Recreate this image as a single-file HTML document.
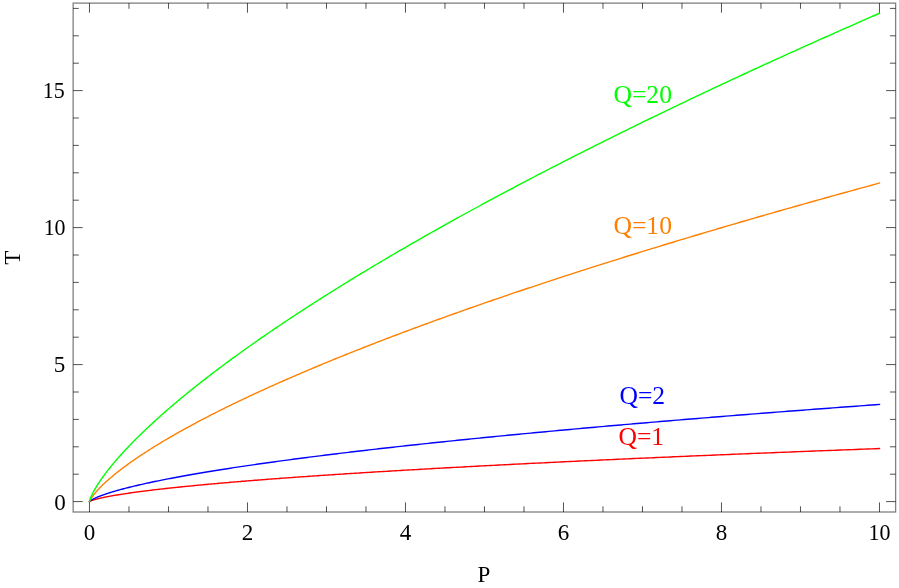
<!DOCTYPE html>
<html><head><meta charset="utf-8"><title>T-P plot</title>
<style>
html,body{margin:0;padding:0;background:#fff;}
body{width:899px;height:588px;overflow:hidden;font-family:"Liberation Serif",serif;}
svg{display:block;position:absolute;left:0;top:0;will-change:transform;}
text{font-family:"Liberation Serif",serif;}
.tk{font-size:24px;fill:#000;}
.lb{font-size:25.6px;}
.ax{font-size:23px;fill:#000;}
</style></head><body>
<svg width="899" height="588" viewBox="0 0 899 588">

<g fill="none" stroke-width="1.4" stroke-linejoin="round" stroke-linecap="square">
<path d="M89.47 501.60L89.47 501.60L89.49 501.58L89.51 501.57L89.55 501.54L89.59 501.51L89.65 501.48L89.71 501.44L89.79 501.39L89.87 501.35L89.96 501.30L90.07 501.24L90.18 501.19L90.30 501.13L90.44 501.07L90.58 501.01L90.73 500.94L90.90 500.87L91.07 500.80L91.25 500.73L91.44 500.66L91.65 500.58L91.86 500.50L92.08 500.42L92.31 500.34L92.56 500.26L92.81 500.18L93.07 500.09L93.34 500.01L93.62 499.92L93.91 499.83L94.21 499.74L94.53 499.65L94.85 499.56L95.18 499.46L95.52 499.37L95.87 499.27L96.23 499.17L96.60 499.08L96.98 498.98L97.37 498.88L97.77 498.78L98.18 498.67L98.60 498.57L99.03 498.47L99.47 498.36L99.92 498.26L100.38 498.15L100.85 498.05L101.32 497.94L101.81 497.83L102.31 497.72L102.82 497.61L103.34 497.50L103.87 497.39L104.41 497.28L104.95 497.17L105.51 497.06L106.08 496.94L106.66 496.83L107.25 496.71L107.84 496.60L108.45 496.48L109.07 496.37L109.69 496.25L110.33 496.13L110.98 496.02L111.63 495.90L112.30 495.78L112.98 495.66L113.66 495.54L114.36 495.42L115.07 495.30L115.78 495.18L116.51 495.06L117.24 494.94L117.99 494.81L118.74 494.69L119.51 494.57L120.28 494.44L121.07 494.32L121.86 494.20L122.67 494.07L123.48 493.95L124.31 493.82L125.14 493.70L125.99 493.57L126.84 493.44L127.71 493.32L128.58 493.19L129.46 493.06L130.36 492.94L131.26 492.81L132.17 492.68L133.10 492.55L134.03 492.42L134.97 492.29L135.93 492.16L136.89 492.03L137.86 491.90L138.84 491.77L139.84 491.64L140.84 491.51L141.85 491.38L142.87 491.25L143.91 491.12L144.95 490.99L146.00 490.85L147.06 490.72L148.13 490.59L149.21 490.46L150.30 490.32L151.41 490.19L152.52 490.06L153.64 489.92L154.77 489.79L155.91 489.65L157.06 489.52L158.22 489.39L159.39 489.25L160.57 489.12L161.76 488.98L162.96 488.85L164.17 488.71L165.39 488.57L166.62 488.44L167.86 488.30L169.11 488.17L170.37 488.03L171.63 487.89L172.91 487.76L174.20 487.62L175.50 487.48L176.81 487.35L178.13 487.21L179.46 487.07L180.79 486.93L182.14 486.79L183.50 486.66L184.87 486.52L186.25 486.38L187.63 486.24L189.03 486.10L190.44 485.96L191.85 485.83L193.28 485.69L194.72 485.55L196.16 485.41L197.62 485.27L199.09 485.13L200.56 484.99L202.05 484.85L203.55 484.71L205.05 484.57L206.57 484.43L208.09 484.29L209.63 484.15L211.17 484.01L212.73 483.87L214.29 483.73L215.87 483.59L217.45 483.44L219.05 483.30L220.65 483.16L222.27 483.02L223.89 482.88L225.53 482.74L227.17 482.60L228.83 482.45L230.49 482.31L232.16 482.17L233.85 482.03L235.54 481.89L237.24 481.74L238.96 481.60L240.68 481.46L242.41 481.32L244.16 481.18L245.91 481.03L247.67 480.89L249.44 480.75L251.23 480.60L253.02 480.46L254.82 480.32L256.63 480.18L258.46 480.03L260.29 479.89L262.13 479.75L263.98 479.60L265.84 479.46L267.71 479.32L269.59 479.17L271.49 479.03L273.39 478.88L275.30 478.74L277.22 478.60L279.15 478.45L281.09 478.31L283.04 478.16L285.00 478.02L286.97 477.88L288.95 477.73L290.94 477.59L292.94 477.44L294.95 477.30L296.97 477.15L299.00 477.01L301.04 476.87L303.09 476.72L305.14 476.58L307.21 476.43L309.29 476.29L311.38 476.14L313.48 476.00L315.59 475.85L317.71 475.71L319.83 475.56L321.97 475.42L324.12 475.27L326.28 475.13L328.45 474.98L330.62 474.84L332.81 474.69L335.01 474.54L337.21 474.40L339.43 474.25L341.66 474.11L343.89 473.96L346.14 473.82L348.40 473.67L350.66 473.53L352.94 473.38L355.23 473.23L357.52 473.09L359.83 472.94L362.14 472.80L364.47 472.65L366.80 472.51L369.15 472.36L371.50 472.21L373.87 472.07L376.24 471.92L378.63 471.78L381.02 471.63L383.43 471.48L385.84 471.34L388.27 471.19L390.70 471.04L393.15 470.90L395.60 470.75L398.06 470.61L400.54 470.46L403.02 470.31L405.51 470.17L408.02 470.02L410.53 469.87L413.05 469.73L415.59 469.58L418.13 469.43L420.68 469.29L423.25 469.14L425.82 469.00L428.40 468.85L430.99 468.70L433.59 468.56L436.21 468.41L438.83 468.26L441.46 468.12L444.10 467.97L446.75 467.82L449.41 467.68L452.08 467.53L454.77 467.38L457.46 467.24L460.16 467.09L462.87 466.94L465.59 466.79L468.32 466.65L471.06 466.50L473.81 466.35L476.57 466.21L479.34 466.06L482.12 465.91L484.91 465.77L487.71 465.62L490.52 465.47L493.34 465.33L496.17 465.18L499.01 465.03L501.85 464.89L504.71 464.74L507.58 464.59L510.46 464.44L513.35 464.30L516.25 464.15L519.16 464.00L522.07 463.86L525.00 463.71L527.94 463.56L530.89 463.42L533.85 463.27L536.81 463.12L539.79 462.97L542.78 462.83L545.77 462.68L548.78 462.53L551.80 462.39L554.82 462.24L557.86 462.09L560.91 461.94L563.96 461.80L567.03 461.65L570.11 461.50L573.19 461.36L576.29 461.21L579.39 461.06L582.51 460.91L585.63 460.77L588.77 460.62L591.91 460.47L595.07 460.33L598.23 460.18L601.41 460.03L604.59 459.89L607.79 459.74L610.99 459.59L614.21 459.44L617.43 459.30L620.67 459.15L623.91 459.00L627.16 458.86L630.43 458.71L633.70 458.56L636.98 458.41L640.28 458.27L643.58 458.12L646.89 457.97L650.22 457.83L653.55 457.68L656.89 457.53L660.25 457.39L663.61 457.24L666.98 457.09L670.36 456.94L673.75 456.80L677.16 456.65L680.57 456.50L683.99 456.36L687.42 456.21L690.86 456.06L694.31 455.92L697.77 455.77L701.25 455.62L704.73 455.47L708.22 455.33L711.72 455.18L715.23 455.03L718.75 454.89L722.28 454.74L725.82 454.59L729.37 454.45L732.93 454.30L736.50 454.15L740.08 454.00L743.67 453.86L747.27 453.71L750.88 453.56L754.50 453.42L758.13 453.27L761.76 453.12L765.41 452.98L769.07 452.83L772.74 452.68L776.42 452.54L780.11 452.39L783.81 452.24L787.51 452.10L791.23 451.95L794.96 451.80L798.70 451.66L802.45 451.51L806.20 451.36L809.97 451.22L813.75 451.07L817.53 450.92L821.33 450.78L825.14 450.63L828.95 450.48L832.78 450.34L836.62 450.19L840.46 450.04L844.32 449.90L848.19 449.75L852.06 449.60L855.95 449.46L859.84 449.31L863.75 449.16L867.66 449.02L871.59 448.87L875.52 448.72L879.47 448.58" stroke="#ff0000"/>
<path d="M89.47 501.60L89.47 501.59L89.49 501.57L89.51 501.54L89.55 501.50L89.59 501.45L89.65 501.40L89.71 501.34L89.79 501.27L89.87 501.19L89.96 501.11L90.07 501.03L90.18 500.94L90.30 500.84L90.44 500.75L90.58 500.64L90.73 500.54L90.90 500.43L91.07 500.32L91.25 500.20L91.44 500.08L91.65 499.96L91.86 499.83L92.08 499.70L92.31 499.57L92.56 499.44L92.81 499.30L93.07 499.16L93.34 499.02L93.62 498.87L93.91 498.73L94.21 498.58L94.53 498.43L94.85 498.27L95.18 498.12L95.52 497.96L95.87 497.80L96.23 497.64L96.60 497.48L96.98 497.32L97.37 497.15L97.77 496.98L98.18 496.81L98.60 496.64L99.03 496.47L99.47 496.30L99.92 496.12L100.38 495.94L100.85 495.77L101.32 495.59L101.81 495.40L102.31 495.22L102.82 495.04L103.34 494.85L103.87 494.67L104.41 494.48L104.95 494.29L105.51 494.10L106.08 493.91L106.66 493.72L107.25 493.52L107.84 493.33L108.45 493.13L109.07 492.93L109.69 492.74L110.33 492.54L110.98 492.34L111.63 492.14L112.30 491.93L112.98 491.73L113.66 491.53L114.36 491.32L115.07 491.11L115.78 490.91L116.51 490.70L117.24 490.49L117.99 490.28L118.74 490.07L119.51 489.86L120.28 489.65L121.07 489.43L121.86 489.22L122.67 489.01L123.48 488.79L124.31 488.58L125.14 488.36L125.99 488.14L126.84 487.92L127.71 487.70L128.58 487.48L129.46 487.26L130.36 487.04L131.26 486.82L132.17 486.60L133.10 486.37L134.03 486.15L134.97 485.93L135.93 485.70L136.89 485.47L137.86 485.25L138.84 485.02L139.84 484.79L140.84 484.56L141.85 484.34L142.87 484.11L143.91 483.88L144.95 483.64L146.00 483.41L147.06 483.18L148.13 482.95L149.21 482.72L150.30 482.48L151.41 482.25L152.52 482.01L153.64 481.78L154.77 481.54L155.91 481.31L157.06 481.07L158.22 480.83L159.39 480.60L160.57 480.36L161.76 480.12L162.96 479.88L164.17 479.64L165.39 479.40L166.62 479.16L167.86 478.92L169.11 478.68L170.37 478.44L171.63 478.19L172.91 477.95L174.20 477.71L175.50 477.46L176.81 477.22L178.13 476.98L179.46 476.73L180.79 476.49L182.14 476.24L183.50 475.99L184.87 475.75L186.25 475.50L187.63 475.25L189.03 475.01L190.44 474.76L191.85 474.51L193.28 474.26L194.72 474.01L196.16 473.76L197.62 473.51L199.09 473.26L200.56 473.01L202.05 472.76L203.55 472.51L205.05 472.26L206.57 472.01L208.09 471.75L209.63 471.50L211.17 471.25L212.73 471.00L214.29 470.74L215.87 470.49L217.45 470.23L219.05 469.98L220.65 469.72L222.27 469.47L223.89 469.21L225.53 468.96L227.17 468.70L228.83 468.45L230.49 468.19L232.16 467.93L233.85 467.68L235.54 467.42L237.24 467.16L238.96 466.90L240.68 466.64L242.41 466.39L244.16 466.13L245.91 465.87L247.67 465.61L249.44 465.35L251.23 465.09L253.02 464.83L254.82 464.57L256.63 464.31L258.46 464.05L260.29 463.78L262.13 463.52L263.98 463.26L265.84 463.00L267.71 462.74L269.59 462.48L271.49 462.21L273.39 461.95L275.30 461.69L277.22 461.42L279.15 461.16L281.09 460.90L283.04 460.63L285.00 460.37L286.97 460.10L288.95 459.84L290.94 459.57L292.94 459.31L294.95 459.04L296.97 458.78L299.00 458.51L301.04 458.25L303.09 457.98L305.14 457.71L307.21 457.45L309.29 457.18L311.38 456.91L313.48 456.65L315.59 456.38L317.71 456.11L319.83 455.84L321.97 455.57L324.12 455.31L326.28 455.04L328.45 454.77L330.62 454.50L332.81 454.23L335.01 453.96L337.21 453.69L339.43 453.42L341.66 453.15L343.89 452.88L346.14 452.61L348.40 452.34L350.66 452.07L352.94 451.80L355.23 451.53L357.52 451.26L359.83 450.99L362.14 450.72L364.47 450.45L366.80 450.18L369.15 449.91L371.50 449.63L373.87 449.36L376.24 449.09L378.63 448.82L381.02 448.54L383.43 448.27L385.84 448.00L388.27 447.73L390.70 447.45L393.15 447.18L395.60 446.91L398.06 446.63L400.54 446.36L403.02 446.09L405.51 445.81L408.02 445.54L410.53 445.26L413.05 444.99L415.59 444.71L418.13 444.44L420.68 444.17L423.25 443.89L425.82 443.62L428.40 443.34L430.99 443.07L433.59 442.79L436.21 442.51L438.83 442.24L441.46 441.96L444.10 441.69L446.75 441.41L449.41 441.13L452.08 440.86L454.77 440.58L457.46 440.31L460.16 440.03L462.87 439.75L465.59 439.47L468.32 439.20L471.06 438.92L473.81 438.64L476.57 438.37L479.34 438.09L482.12 437.81L484.91 437.53L487.71 437.26L490.52 436.98L493.34 436.70L496.17 436.42L499.01 436.14L501.85 435.86L504.71 435.59L507.58 435.31L510.46 435.03L513.35 434.75L516.25 434.47L519.16 434.19L522.07 433.91L525.00 433.63L527.94 433.36L530.89 433.08L533.85 432.80L536.81 432.52L539.79 432.24L542.78 431.96L545.77 431.68L548.78 431.40L551.80 431.12L554.82 430.84L557.86 430.56L560.91 430.28L563.96 430.00L567.03 429.72L570.11 429.44L573.19 429.15L576.29 428.87L579.39 428.59L582.51 428.31L585.63 428.03L588.77 427.75L591.91 427.47L595.07 427.19L598.23 426.91L601.41 426.62L604.59 426.34L607.79 426.06L610.99 425.78L614.21 425.50L617.43 425.22L620.67 424.93L623.91 424.65L627.16 424.37L630.43 424.09L633.70 423.81L636.98 423.52L640.28 423.24L643.58 422.96L646.89 422.68L650.22 422.39L653.55 422.11L656.89 421.83L660.25 421.54L663.61 421.26L666.98 420.98L670.36 420.70L673.75 420.41L677.16 420.13L680.57 419.85L683.99 419.56L687.42 419.28L690.86 419.00L694.31 418.71L697.77 418.43L701.25 418.15L704.73 417.86L708.22 417.58L711.72 417.29L715.23 417.01L718.75 416.73L722.28 416.44L725.82 416.16L729.37 415.87L732.93 415.59L736.50 415.31L740.08 415.02L743.67 414.74L747.27 414.45L750.88 414.17L754.50 413.88L758.13 413.60L761.76 413.31L765.41 413.03L769.07 412.74L772.74 412.46L776.42 412.17L780.11 411.89L783.81 411.61L787.51 411.32L791.23 411.03L794.96 410.75L798.70 410.46L802.45 410.18L806.20 409.89L809.97 409.61L813.75 409.32L817.53 409.04L821.33 408.75L825.14 408.47L828.95 408.18L832.78 407.90L836.62 407.61L840.46 407.32L844.32 407.04L848.19 406.75L852.06 406.47L855.95 406.18L859.84 405.89L863.75 405.61L867.66 405.32L871.59 405.04L875.52 404.75L879.47 404.46" stroke="#0000ff"/>
<path d="M89.47 501.60L89.47 501.58L89.49 501.53L89.51 501.46L89.55 501.36L89.59 501.25L89.65 501.12L89.71 500.97L89.79 500.80L89.87 500.63L89.96 500.43L90.07 500.23L90.18 500.02L90.30 499.79L90.44 499.55L90.58 499.30L90.73 499.04L90.90 498.77L91.07 498.50L91.25 498.21L91.44 497.91L91.65 497.61L91.86 497.30L92.08 496.98L92.31 496.65L92.56 496.31L92.81 495.97L93.07 495.62L93.34 495.26L93.62 494.89L93.91 494.52L94.21 494.14L94.53 493.76L94.85 493.36L95.18 492.97L95.52 492.56L95.87 492.15L96.23 491.74L96.60 491.31L96.98 490.89L97.37 490.45L97.77 490.01L98.18 489.57L98.60 489.12L99.03 488.67L99.47 488.21L99.92 487.74L100.38 487.27L100.85 486.80L101.32 486.32L101.81 485.83L102.31 485.35L102.82 484.85L103.34 484.35L103.87 483.85L104.41 483.34L104.95 482.83L105.51 482.32L106.08 481.80L106.66 481.27L107.25 480.74L107.84 480.21L108.45 479.68L109.07 479.14L109.69 478.59L110.33 478.04L110.98 477.49L111.63 476.93L112.30 476.37L112.98 475.81L113.66 475.24L114.36 474.67L115.07 474.10L115.78 473.52L116.51 472.94L117.24 472.35L117.99 471.76L118.74 471.17L119.51 470.58L120.28 469.98L121.07 469.38L121.86 468.77L122.67 468.16L123.48 467.55L124.31 466.93L125.14 466.32L125.99 465.70L126.84 465.07L127.71 464.44L128.58 463.81L129.46 463.18L130.36 462.54L131.26 461.90L132.17 461.26L133.10 460.61L134.03 459.97L134.97 459.31L135.93 458.66L136.89 458.00L137.86 457.34L138.84 456.68L139.84 456.02L140.84 455.35L141.85 454.68L142.87 454.00L143.91 453.33L144.95 452.65L146.00 451.97L147.06 451.28L148.13 450.60L149.21 449.91L150.30 449.22L151.41 448.52L152.52 447.83L153.64 447.13L154.77 446.43L155.91 445.72L157.06 445.01L158.22 444.31L159.39 443.59L160.57 442.88L161.76 442.16L162.96 441.45L164.17 440.73L165.39 440.00L166.62 439.28L167.86 438.55L169.11 437.82L170.37 437.09L171.63 436.35L172.91 435.62L174.20 434.88L175.50 434.14L176.81 433.39L178.13 432.65L179.46 431.90L180.79 431.15L182.14 430.40L183.50 429.65L184.87 428.89L186.25 428.13L187.63 427.37L189.03 426.61L190.44 425.85L191.85 425.08L193.28 424.31L194.72 423.54L196.16 422.77L197.62 421.99L199.09 421.22L200.56 420.44L202.05 419.66L203.55 418.88L205.05 418.09L206.57 417.31L208.09 416.52L209.63 415.73L211.17 414.94L212.73 414.15L214.29 413.35L215.87 412.55L217.45 411.75L219.05 410.95L220.65 410.15L222.27 409.35L223.89 408.54L225.53 407.73L227.17 406.92L228.83 406.11L230.49 405.30L232.16 404.48L233.85 403.67L235.54 402.85L237.24 402.03L238.96 401.21L240.68 400.38L242.41 399.56L244.16 398.73L245.91 397.90L247.67 397.07L249.44 396.24L251.23 395.40L253.02 394.57L254.82 393.73L256.63 392.89L258.46 392.05L260.29 391.21L262.13 390.37L263.98 389.52L265.84 388.68L267.71 387.83L269.59 386.98L271.49 386.13L273.39 385.27L275.30 384.42L277.22 383.56L279.15 382.71L281.09 381.85L283.04 380.99L285.00 380.13L286.97 379.26L288.95 378.40L290.94 377.53L292.94 376.66L294.95 375.79L296.97 374.92L299.00 374.05L301.04 373.18L303.09 372.30L305.14 371.42L307.21 370.55L309.29 369.67L311.38 368.78L313.48 367.90L315.59 367.02L317.71 366.13L319.83 365.25L321.97 364.36L324.12 363.47L326.28 362.58L328.45 361.69L330.62 360.79L332.81 359.90L335.01 359.00L337.21 358.10L339.43 357.20L341.66 356.30L343.89 355.40L346.14 354.50L348.40 353.59L350.66 352.69L352.94 351.78L355.23 350.87L357.52 349.96L359.83 349.05L362.14 348.14L364.47 347.23L366.80 346.31L369.15 345.40L371.50 344.48L373.87 343.56L376.24 342.64L378.63 341.72L381.02 340.80L383.43 339.87L385.84 338.95L388.27 338.02L390.70 337.10L393.15 336.17L395.60 335.24L398.06 334.31L400.54 333.37L403.02 332.44L405.51 331.51L408.02 330.57L410.53 329.63L413.05 328.70L415.59 327.76L418.13 326.82L420.68 325.87L423.25 324.93L425.82 323.99L428.40 323.04L430.99 322.10L433.59 321.15L436.21 320.20L438.83 319.25L441.46 318.30L444.10 317.35L446.75 316.39L449.41 315.44L452.08 314.48L454.77 313.53L457.46 312.57L460.16 311.61L462.87 310.65L465.59 309.69L468.32 308.73L471.06 307.77L473.81 306.80L476.57 305.84L479.34 304.87L482.12 303.90L484.91 302.93L487.71 301.96L490.52 300.99L493.34 300.02L496.17 299.05L499.01 298.08L501.85 297.10L504.71 296.13L507.58 295.15L510.46 294.17L513.35 293.19L516.25 292.21L519.16 291.23L522.07 290.25L525.00 289.26L527.94 288.28L530.89 287.30L533.85 286.31L536.81 285.32L539.79 284.33L542.78 283.34L545.77 282.35L548.78 281.36L551.80 280.37L554.82 279.38L557.86 278.38L560.91 277.39L563.96 276.39L567.03 275.39L570.11 274.40L573.19 273.40L576.29 272.40L579.39 271.40L582.51 270.39L585.63 269.39L588.77 268.39L591.91 267.38L595.07 266.38L598.23 265.37L601.41 264.36L604.59 263.35L607.79 262.35L610.99 261.33L614.21 260.32L617.43 259.31L620.67 258.30L623.91 257.28L627.16 256.27L630.43 255.25L633.70 254.24L636.98 253.22L640.28 252.20L643.58 251.18L646.89 250.16L650.22 249.14L653.55 248.12L656.89 247.09L660.25 246.07L663.61 245.04L666.98 244.02L670.36 242.99L673.75 241.96L677.16 240.93L680.57 239.91L683.99 238.87L687.42 237.84L690.86 236.81L694.31 235.78L697.77 234.75L701.25 233.71L704.73 232.68L708.22 231.64L711.72 230.60L715.23 229.56L718.75 228.53L722.28 227.49L725.82 226.44L729.37 225.40L732.93 224.36L736.50 223.32L740.08 222.27L743.67 221.23L747.27 220.18L750.88 219.14L754.50 218.09L758.13 217.04L761.76 215.99L765.41 214.94L769.07 213.89L772.74 212.84L776.42 211.79L780.11 210.74L783.81 209.68L787.51 208.63L791.23 207.58L794.96 206.52L798.70 205.46L802.45 204.40L806.20 203.35L809.97 202.29L813.75 201.23L817.53 200.17L821.33 199.10L825.14 198.04L828.95 196.98L832.78 195.92L836.62 194.85L840.46 193.79L844.32 192.72L848.19 191.65L852.06 190.58L855.95 189.52L859.84 188.45L863.75 187.38L867.66 186.31L871.59 185.24L875.52 184.16L879.47 183.09" stroke="#ff8000"/>
<path d="M89.47 501.60L89.47 501.54L89.49 501.44L89.51 501.30L89.55 501.13L89.59 500.93L89.65 500.71L89.71 500.47L89.79 500.21L89.87 499.93L89.96 499.64L90.07 499.33L90.18 499.00L90.30 498.65L90.44 498.30L90.58 497.93L90.73 497.54L90.90 497.14L91.07 496.73L91.25 496.31L91.44 495.88L91.65 495.43L91.86 494.98L92.08 494.51L92.31 494.03L92.56 493.54L92.81 493.04L93.07 492.53L93.34 492.01L93.62 491.49L93.91 490.95L94.21 490.40L94.53 489.85L94.85 489.28L95.18 488.71L95.52 488.12L95.87 487.53L96.23 486.93L96.60 486.33L96.98 485.71L97.37 485.09L97.77 484.46L98.18 483.82L98.60 483.17L99.03 482.52L99.47 481.86L99.92 481.19L100.38 480.52L100.85 479.83L101.32 479.14L101.81 478.45L102.31 477.74L102.82 477.03L103.34 476.32L103.87 475.59L104.41 474.86L104.95 474.13L105.51 473.38L106.08 472.63L106.66 471.88L107.25 471.12L107.84 470.35L108.45 469.57L109.07 468.79L109.69 468.01L110.33 467.22L110.98 466.42L111.63 465.62L112.30 464.81L112.98 463.99L113.66 463.17L114.36 462.34L115.07 461.51L115.78 460.68L116.51 459.83L117.24 458.99L117.99 458.13L118.74 457.28L119.51 456.41L120.28 455.54L121.07 454.67L121.86 453.79L122.67 452.91L123.48 452.02L124.31 451.12L125.14 450.22L125.99 449.32L126.84 448.41L127.71 447.50L128.58 446.58L129.46 445.65L130.36 444.73L131.26 443.79L132.17 442.86L133.10 441.91L134.03 440.97L134.97 440.02L135.93 439.06L136.89 438.10L137.86 437.13L138.84 436.17L139.84 435.19L140.84 434.21L141.85 433.23L142.87 432.24L143.91 431.25L144.95 430.26L146.00 429.26L147.06 428.25L148.13 427.25L149.21 426.23L150.30 425.22L151.41 424.20L152.52 423.17L153.64 422.14L154.77 421.11L155.91 420.07L157.06 419.03L158.22 417.99L159.39 416.94L160.57 415.89L161.76 414.83L162.96 413.77L164.17 412.71L165.39 411.64L166.62 410.57L167.86 409.49L169.11 408.41L170.37 407.33L171.63 406.24L172.91 405.15L174.20 404.06L175.50 402.96L176.81 401.86L178.13 400.75L179.46 399.64L180.79 398.53L182.14 397.41L183.50 396.29L184.87 395.17L186.25 394.04L187.63 392.91L189.03 391.78L190.44 390.64L191.85 389.50L193.28 388.35L194.72 387.21L196.16 386.06L197.62 384.90L199.09 383.74L200.56 382.58L202.05 381.42L203.55 380.25L205.05 379.08L206.57 377.90L208.09 376.73L209.63 375.54L211.17 374.36L212.73 373.17L214.29 371.98L215.87 370.79L217.45 369.59L219.05 368.39L220.65 367.19L222.27 365.98L223.89 364.77L225.53 363.56L227.17 362.34L228.83 361.12L230.49 359.90L232.16 358.67L233.85 357.44L235.54 356.21L237.24 354.98L238.96 353.74L240.68 352.50L242.41 351.26L244.16 350.01L245.91 348.76L247.67 347.51L249.44 346.25L251.23 344.99L253.02 343.73L254.82 342.47L256.63 341.20L258.46 339.93L260.29 338.66L262.13 337.38L263.98 336.10L265.84 334.82L267.71 333.54L269.59 332.25L271.49 330.96L273.39 329.67L275.30 328.37L277.22 327.07L279.15 325.77L281.09 324.47L283.04 323.16L285.00 321.85L286.97 320.54L288.95 319.22L290.94 317.91L292.94 316.58L294.95 315.26L296.97 313.94L299.00 312.61L301.04 311.28L303.09 309.94L305.14 308.61L307.21 307.27L309.29 305.93L311.38 304.58L313.48 303.24L315.59 301.89L317.71 300.53L319.83 299.18L321.97 297.82L324.12 296.46L326.28 295.10L328.45 293.74L330.62 292.37L332.81 291.00L335.01 289.63L337.21 288.25L339.43 286.87L341.66 285.49L343.89 284.11L346.14 282.73L348.40 281.34L350.66 279.95L352.94 278.56L355.23 277.16L357.52 275.77L359.83 274.37L362.14 272.96L364.47 271.56L366.80 270.15L369.15 268.74L371.50 267.33L373.87 265.92L376.24 264.50L378.63 263.08L381.02 261.66L383.43 260.24L385.84 258.81L388.27 257.39L390.70 255.96L393.15 254.52L395.60 253.09L398.06 251.65L400.54 250.21L403.02 248.77L405.51 247.33L408.02 245.88L410.53 244.43L413.05 242.98L415.59 241.53L418.13 240.07L420.68 238.61L423.25 237.15L425.82 235.69L428.40 234.23L430.99 232.76L433.59 231.29L436.21 229.82L438.83 228.35L441.46 226.87L444.10 225.40L446.75 223.92L449.41 222.43L452.08 220.95L454.77 219.46L457.46 217.98L460.16 216.49L462.87 214.99L465.59 213.50L468.32 212.00L471.06 210.50L473.81 209.00L476.57 207.50L479.34 205.99L482.12 204.48L484.91 202.97L487.71 201.46L490.52 199.95L493.34 198.43L496.17 196.92L499.01 195.40L501.85 193.87L504.71 192.35L507.58 190.82L510.46 189.30L513.35 187.77L516.25 186.23L519.16 184.70L522.07 183.16L525.00 181.62L527.94 180.08L530.89 178.54L533.85 177.00L536.81 175.45L539.79 173.90L542.78 172.35L545.77 170.80L548.78 169.25L551.80 167.69L554.82 166.13L557.86 164.57L560.91 163.01L563.96 161.45L567.03 159.88L570.11 158.31L573.19 156.74L576.29 155.17L579.39 153.60L582.51 152.02L585.63 150.45L588.77 148.87L591.91 147.28L595.07 145.70L598.23 144.12L601.41 142.53L604.59 140.94L607.79 139.35L610.99 137.76L614.21 136.16L617.43 134.57L620.67 132.97L623.91 131.37L627.16 129.77L630.43 128.16L633.70 126.56L636.98 124.95L640.28 123.34L643.58 121.73L646.89 120.12L650.22 118.50L653.55 116.89L656.89 115.27L660.25 113.65L663.61 112.03L666.98 110.40L670.36 108.78L673.75 107.15L677.16 105.52L680.57 103.89L683.99 102.26L687.42 100.62L690.86 98.99L694.31 97.35L697.77 95.71L701.25 94.07L704.73 92.42L708.22 90.78L711.72 89.13L715.23 87.48L718.75 85.83L722.28 84.18L725.82 82.53L729.37 80.87L732.93 79.22L736.50 77.56L740.08 75.90L743.67 74.24L747.27 72.57L750.88 70.91L754.50 69.24L758.13 67.57L761.76 65.90L765.41 64.23L769.07 62.55L772.74 60.88L776.42 59.20L780.11 57.52L783.81 55.84L787.51 54.16L791.23 52.47L794.96 50.79L798.70 49.10L802.45 47.41L806.20 45.72L809.97 44.03L813.75 42.33L817.53 40.64L821.33 38.94L825.14 37.24L828.95 35.54L832.78 33.84L836.62 32.14L840.46 30.43L844.32 28.72L848.19 27.02L852.06 25.31L855.95 23.59L859.84 21.88L863.75 20.17L867.66 18.45L871.59 16.73L875.52 15.01L879.47 13.29" stroke="#00ff00"/>
</g>
<rect x="73.15" y="3.11" width="822.47" height="508.89" fill="none" stroke="#808080" stroke-width="1.3"/>
<path d="M89.47 512.00V502.40M89.47 3.11V12.71M128.97 512.00V506.30M128.97 3.11V8.81M168.47 512.00V506.30M168.47 3.11V8.81M207.97 512.00V506.30M207.97 3.11V8.81M247.47 512.00V502.40M247.47 3.11V12.71M286.97 512.00V506.30M286.97 3.11V8.81M326.47 512.00V506.30M326.47 3.11V8.81M365.97 512.00V506.30M365.97 3.11V8.81M405.47 512.00V502.40M405.47 3.11V12.71M444.97 512.00V506.30M444.97 3.11V8.81M484.47 512.00V506.30M484.47 3.11V8.81M523.97 512.00V506.30M523.97 3.11V8.81M563.47 512.00V502.40M563.47 3.11V12.71M602.97 512.00V506.30M602.97 3.11V8.81M642.47 512.00V506.30M642.47 3.11V8.81M681.97 512.00V506.30M681.97 3.11V8.81M721.47 512.00V502.40M721.47 3.11V12.71M760.97 512.00V506.30M760.97 3.11V8.81M800.47 512.00V506.30M800.47 3.11V8.81M839.97 512.00V506.30M839.97 3.11V8.81M879.47 512.00V502.40M879.47 3.11V12.71M73.15 501.60H82.75M895.62 501.60H886.02M73.15 474.20H78.85M895.62 474.20H889.92M73.15 446.80H78.85M895.62 446.80H889.92M73.15 419.40H78.85M895.62 419.40H889.92M73.15 392.00H78.85M895.62 392.00H889.92M73.15 364.60H82.75M895.62 364.60H886.02M73.15 337.20H78.85M895.62 337.20H889.92M73.15 309.80H78.85M895.62 309.80H889.92M73.15 282.40H78.85M895.62 282.40H889.92M73.15 255.00H78.85M895.62 255.00H889.92M73.15 227.60H82.75M895.62 227.60H886.02M73.15 200.20H78.85M895.62 200.20H889.92M73.15 172.80H78.85M895.62 172.80H889.92M73.15 145.40H78.85M895.62 145.40H889.92M73.15 118.00H78.85M895.62 118.00H889.92M73.15 90.60H82.75M895.62 90.60H886.02M73.15 63.20H78.85M895.62 63.20H889.92M73.15 35.80H78.85M895.62 35.80H889.92M73.15 8.40H78.85M895.62 8.40H889.92" fill="none" stroke="#000000" stroke-width="0.68"/>
<text class="tk" transform="translate(89.47 539.75) scale(0.96 1)" text-anchor="middle">0</text>
<text class="tk" transform="translate(247.47 539.75) scale(0.96 1)" text-anchor="middle">2</text>
<text class="tk" transform="translate(405.47 539.75) scale(0.96 1)" text-anchor="middle">4</text>
<text class="tk" transform="translate(563.47 539.75) scale(0.96 1)" text-anchor="middle">6</text>
<text class="tk" transform="translate(721.47 539.75) scale(0.96 1)" text-anchor="middle">8</text>
<text class="tk" transform="translate(879.47 539.75) scale(0.915 1)" text-anchor="middle">10</text>
<text class="tk" transform="translate(65.70 510.00) scale(0.96 1)" text-anchor="end">0</text>
<text class="tk" transform="translate(65.30 372.40) scale(0.96 1)" text-anchor="end">5</text>
<text class="tk" transform="translate(65.60 235.20) scale(0.915 1)" text-anchor="end">10</text>
<text class="tk" transform="translate(64.70 97.80) scale(0.915 1)" text-anchor="end">15</text>
<text class="ax" x="484.00" y="582.40" text-anchor="middle">P</text>
<text class="ax" transform="translate(20.10 257.60) rotate(-90)" text-anchor="middle">T</text>
<text class="lb" x="642.70" y="102.80" text-anchor="middle" fill="#00ff00">Q=20</text>
<text class="lb" x="642.70" y="234.00" text-anchor="middle" fill="#ff8000">Q=10</text>
<text class="lb" x="642.30" y="404.00" text-anchor="middle" fill="#0000ff">Q=2</text>
<text class="lb" x="641.30" y="444.90" text-anchor="middle" fill="#ff0000">Q=1</text>
</svg>
</body></html>
